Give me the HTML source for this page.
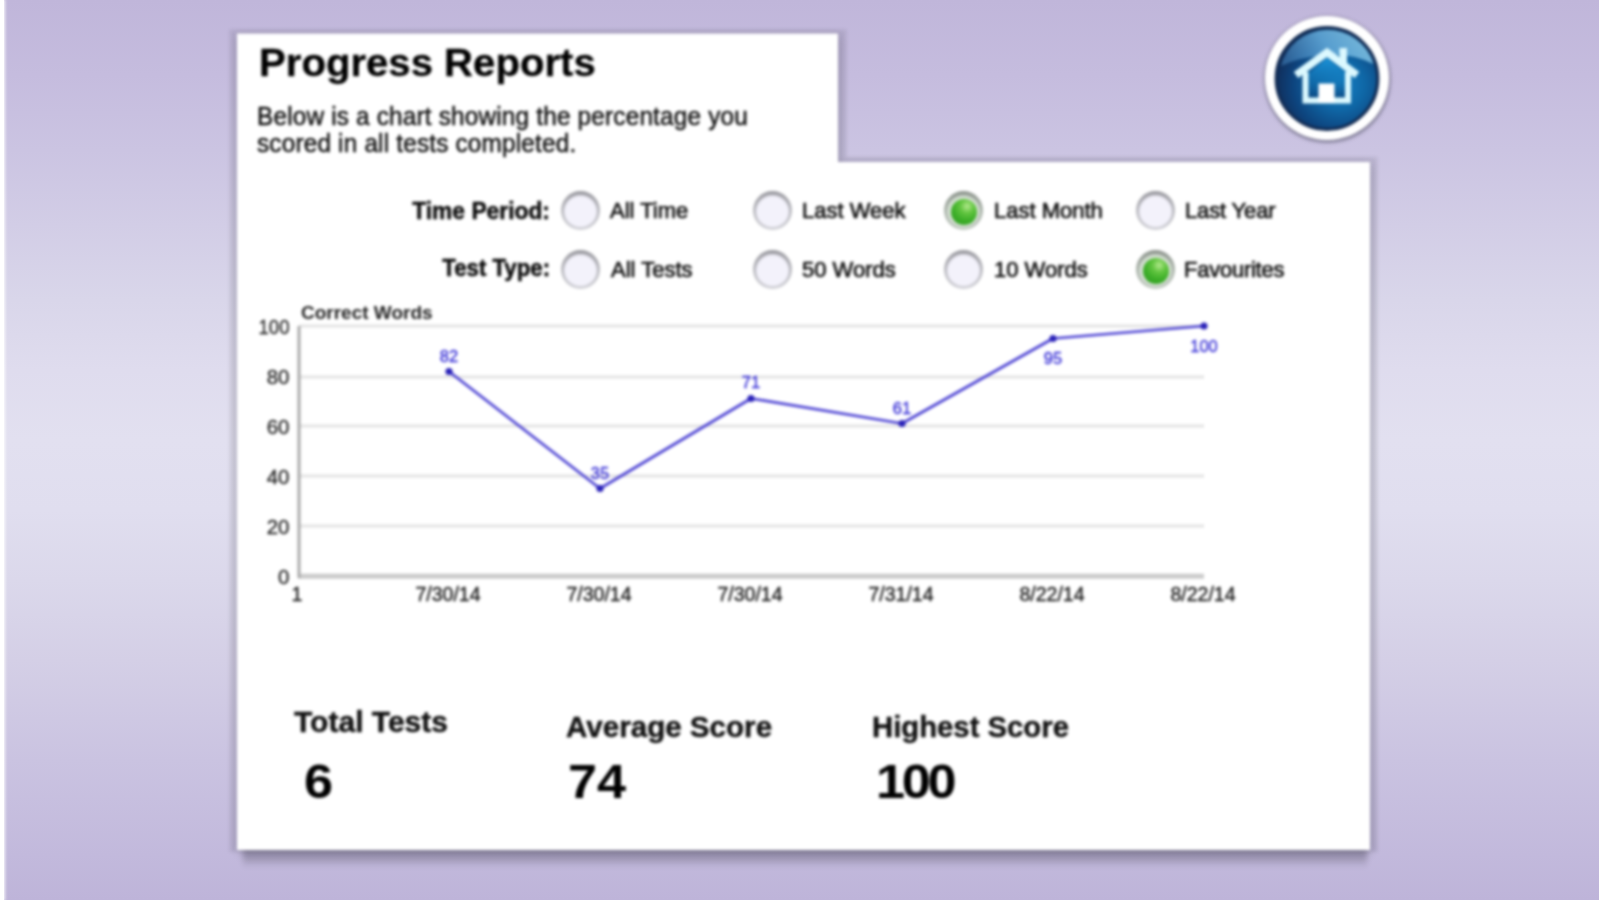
<!DOCTYPE html>
<html lang="en">
<head>
<meta charset="utf-8">
<title>Progress Reports</title>
<style>
html,body{margin:0;padding:0;}
body{width:1599px;height:900px;overflow:hidden;position:relative;
  font-family:"Liberation Sans",Arial,Helvetica,sans-serif;color:#1a1a1a;
  background:linear-gradient(to bottom,#c0b6da 0px,#c5bcde 75px,#cbc4e2 150px,#d2cde6 225px,#d9d6ea 300px,#dfdcee 370px,#e2e0f0 440px,#e0deef 510px,#dbd8eb 580px,#d4cfe6 660px,#cac3e1 760px,#c2b9dc 855px,#beb4d9 900px);}
.abs{position:absolute;}
#edge{left:-6px;top:0;width:10px;height:900px;background:#fff;box-shadow:0 0 3px 1px rgba(255,255,255,.9);}
#soft{position:absolute;left:0;top:0;width:1599px;height:900px;filter:blur(1.4px);}
.t{position:absolute;white-space:nowrap;line-height:1;}
#title{left:258.5px;top:44px;font-weight:bold;font-size:38px;letter-spacing:0;color:#000;-webkit-text-stroke:.3px #000;transform:scaleX(1.056);transform-origin:0 0;}
#desc{left:257px;top:102.6px;font-size:25.5px;line-height:27px;letter-spacing:.2px;color:#111;-webkit-text-stroke:.5px #111;white-space:nowrap;transform:scaleX(.954);transform-origin:0 0;}
.lab{font-weight:bold;font-size:23.5px;color:#0a0a0a;-webkit-text-stroke:.5px #0a0a0a;transform-origin:100% 0;}
.opt{font-size:22px;color:#111;-webkit-text-stroke:.65px #111;}
.radio{position:absolute;width:39px;height:39px;border-radius:50%;background:linear-gradient(to bottom,#9b9ba1 0%,#b9b9bf 45%,#d2d2d8 100%);}
.radio::before{content:"";position:absolute;left:3px;top:3.5px;width:33px;height:32.5px;border-radius:50%;background:#f3f2fb;box-shadow:inset 0 1px 2px rgba(0,0,0,.12);}
.radio.on{background:linear-gradient(to bottom,#8f968f 0%,#aab3aa 45%,#c4ccc4 100%);}
.radio.on::before{background:#d4dfd2;}
.radio.on::after{content:"";position:absolute;left:7px;top:8px;width:26px;height:26px;border-radius:50%;
  background:radial-gradient(circle at 62% 28%,#b2e88c 0%,#62c540 28%,#3cae28 58%,#2e9621 100%);}
.stat{font-weight:bold;font-size:29px;color:#111;-webkit-text-stroke:.4px #111;transform:scaleX(1.02);transform-origin:0 0;}
.num{font-weight:bold;font-size:47.5px;color:#000;transform:scaleX(1.10);transform-origin:0 0;}
</style>
</head>
<body>
<div id="edge" class="abs"></div>
<div id="soft">
  <svg class="abs" style="left:0;top:0;" width="1599" height="900" viewBox="0 0 1599 900">
    <defs>
      <filter id="b1" x="-5%" y="-100%" width="110%" height="300%"><feGaussianBlur stdDeviation="5"/></filter>
      <filter id="b3" x="-5%" y="-200%" width="110%" height="500%"><feGaussianBlur stdDeviation="2.6 4.2"/></filter>
      <filter id="b4" x="-5%" y="-5%" width="110%" height="110%"><feGaussianBlur stdDeviation="1"/></filter>
      <filter id="b2" x="-5%" y="-5%" width="110%" height="110%"><feGaussianBlur stdDeviation="3.2"/></filter>
    </defs>
    <rect x="243" y="842" width="1124" height="20" fill="#0e0e16" opacity=".21" filter="url(#b3)"/>
    <path d="M237 33.5 H838 V162 H1370 V850 H237 Z" fill="#0e0e16" opacity=".1" transform="translate(1 4)" filter="url(#b1)"/>
    <path d="M229.5 29.5 H846.5 V157 H1377.5 V852 H229.5 Z" fill="#14141c" opacity=".085" filter="url(#b4)"/>
    <path d="M237 33.5 H838 V162 H1370 V850 H237 Z" fill="#0e0e16" opacity=".14" transform="translate(0.5 0.5)" filter="url(#b2)"/>
    <path d="M237 33.5 H837 Q838 33.5 838 34.5 V162 H1369 Q1370 162 1370 163 V850 H237 Z" fill="#fff"/>
  </svg>

  <div id="title" class="t">Progress Reports</div>
  <div id="desc" class="t">Below is a chart showing the percentage you<br>scored in all tests completed.</div>

  <div class="t lab" id="l1" style="right:1049.5px;top:199.5px;transform:scaleX(.97);">Time Period:</div>
  <div class="t lab" id="l2" style="right:1049px;top:257px;transform:scaleX(.945);">Test Type:</div>

  <div class="radio" style="left:561px;top:191.2px;"></div>
  <div class="radio" style="left:753px;top:191.2px;"></div>
  <div class="radio on" style="left:944px;top:191.2px;"></div>
  <div class="radio" style="left:1136px;top:191.2px;"></div>
  <div class="radio" style="left:561px;top:250.2px;"></div>
  <div class="radio" style="left:753px;top:250.2px;"></div>
  <div class="radio" style="left:944px;top:250.2px;"></div>
  <div class="radio on" style="left:1136px;top:250.2px;"></div>

  <div class="t opt" style="left:610px;top:200px;">All Time</div>
  <div class="t opt" style="left:802px;top:200px;">Last Week</div>
  <div class="t opt" style="left:994px;top:200px;">Last Month</div>
  <div class="t opt" style="left:1185px;top:200px;letter-spacing:-.15px;">Last Year</div>
  <div class="t opt" style="left:611px;top:259px;">All Tests</div>
  <div class="t opt" style="left:802px;top:259px;">50 Words</div>
  <div class="t opt" style="left:994px;top:259px;">10 Words</div>
  <div class="t opt" style="left:1184px;top:259px;letter-spacing:-.25px;">Favourites</div>

  <svg class="abs" style="left:236px;top:290px;" width="1134" height="340" viewBox="236 290 1134 340" font-family="Liberation Sans, Arial, sans-serif">
    <g stroke="#e3e3e3" stroke-width="3">
      <line x1="299" y1="326" x2="1204" y2="326"/>
      <line x1="299" y1="377" x2="1204" y2="377"/>
      <line x1="299" y1="426" x2="1204" y2="426"/>
      <line x1="299" y1="476" x2="1204" y2="476"/>
      <line x1="299" y1="526" x2="1204" y2="526"/>
    </g>
    <line x1="298" y1="576.3" x2="1204" y2="576.3" stroke="#cbcbcb" stroke-width="5"/>
    <line x1="299" y1="326" x2="299" y2="578" stroke="#a9a9a9" stroke-width="3"/>
    <text x="301" y="319" font-size="19" font-weight="bold" fill="#222">Correct Words</text>
    <g font-size="20.5" fill="#222" stroke="#222" stroke-width=".3" text-anchor="end">
      <text x="289.5" y="334.2" textLength="31" lengthAdjust="spacingAndGlyphs">100</text>
      <text x="289.5" y="383.5">80</text>
      <text x="289.5" y="433.5">60</text>
      <text x="289.5" y="483.5">40</text>
      <text x="289.5" y="533.5">20</text>
      <text x="289.5" y="583.5">0</text>
    </g>
    <g font-size="19.5" fill="#222" stroke="#222" stroke-width=".4" text-anchor="middle">
      <text x="297" y="601">1</text>
      <text x="448" y="601">7/30/14</text>
      <text x="599" y="601">7/30/14</text>
      <text x="750" y="601">7/30/14</text>
      <text x="901" y="601">7/31/14</text>
      <text x="1052" y="601">8/22/14</text>
      <text x="1203" y="601">8/22/14</text>
    </g>
    <polyline points="449,371.5 600,488.5 751,398.5 902,423.5 1053,338.5 1204,326" fill="none" stroke="#4a40d2" stroke-width="2.7" stroke-linejoin="round"/>
    <g fill="#2a22b8">
      <circle cx="449" cy="371.5" r="3.6"/>
      <circle cx="600" cy="488.5" r="3.6"/>
      <circle cx="751" cy="398.5" r="3.6"/>
      <circle cx="902" cy="423.5" r="3.6"/>
      <circle cx="1053" cy="338.5" r="3.6"/>
      <circle cx="1204" cy="326" r="3.6"/>
    </g>
    <g font-size="16.5" fill="#3a32d6" stroke="#3a32d6" stroke-width=".4" text-anchor="middle">
      <text x="449" y="362">82</text>
      <text x="600" y="479">35</text>
      <text x="751" y="388">71</text>
      <text x="902" y="414">61</text>
      <text x="1053" y="364">95</text>
      <text x="1204" y="352">100</text>
    </g>
  </svg>

  <div class="t stat" id="s1" style="left:294px;top:708px;transform:scaleX(1.035);">Total Tests</div>
  <div class="t stat" id="s2" style="left:566px;top:713px;">Average Score</div>
  <div class="t stat" id="s3" style="left:872px;top:713px;transform:scaleX(1.01);">Highest Score</div>
  <div class="t num" id="n1" style="left:304px;top:758px;">6</div>
  <div class="t num" id="n2" style="left:568px;top:758px;">74</div>
  <div class="t num" id="n3" style="left:876px;top:758px;letter-spacing:-3px;">100</div>

  <svg class="abs" style="left:1254px;top:6px;" width="146" height="146" viewBox="0 0 146 146">
    <defs>
      <radialGradient id="hb" cx="63%" cy="56%" r="62%">
        <stop offset="0" stop-color="#1580c4"/>
        <stop offset="0.4" stop-color="#0f66a5"/>
        <stop offset="0.75" stop-color="#0d447e"/>
        <stop offset="1" stop-color="#10305e"/>
      </radialGradient>
      <linearGradient id="gl" x1="0" y1="0.6" x2="1" y2="0.3">
        <stop offset="0" stop-color="#4382ba" stop-opacity=".6"/>
        <stop offset="0.5" stop-color="#5fa6d6" stop-opacity=".9"/>
        <stop offset="1" stop-color="#86c8e6" stop-opacity=".9"/>
      </linearGradient>
      <linearGradient id="hi" x1="0" y1="0" x2="0" y2="1">
        <stop offset="0" stop-color="#1c96dc" stop-opacity=".95"/>
        <stop offset="0.55" stop-color="#1277b8" stop-opacity=".5"/>
        <stop offset="1" stop-color="#0a3f78" stop-opacity=".75"/>
      </linearGradient>
      <filter id="hs" x="-20%" y="-20%" width="140%" height="140%">
        <feGaussianBlur stdDeviation="1.8"/>
      </filter>
    </defs>
    <circle cx="73.3" cy="73.3" r="63.2" fill="#4a4a5e" opacity=".6" filter="url(#hs)"/>
    <circle cx="73" cy="72" r="62" fill="#fff"/>
    <circle cx="73" cy="72.5" r="50.8" fill="url(#hb)" stroke="#122c54" stroke-width="3.2"/>
    <path d="M27 60 A48 48 0 0 1 119.5 58 Q98 47 72 49 Q46 51 27 60 Z" fill="url(#gl)"/>
    <path d="M54.5 68 L73 52 L91.5 68 V92 H54.5 Z" fill="url(#hi)"/>
    <g fill="none" stroke="#dcf9ff" stroke-width="7.5" stroke-linejoin="miter" stroke-linecap="butt">
      <path d="M42 69 L73 46.5 L103 69"/>
      <path d="M51.5 66 V94.5 H94 V66" stroke-width="6"/>
    </g>
    <rect x="85.5" y="42" width="7.5" height="17" fill="#dcf9ff"/>
    <rect x="64.5" y="77.5" width="16" height="19" fill="#ffffff"/>
  </svg>
</div>
</body>
</html>
